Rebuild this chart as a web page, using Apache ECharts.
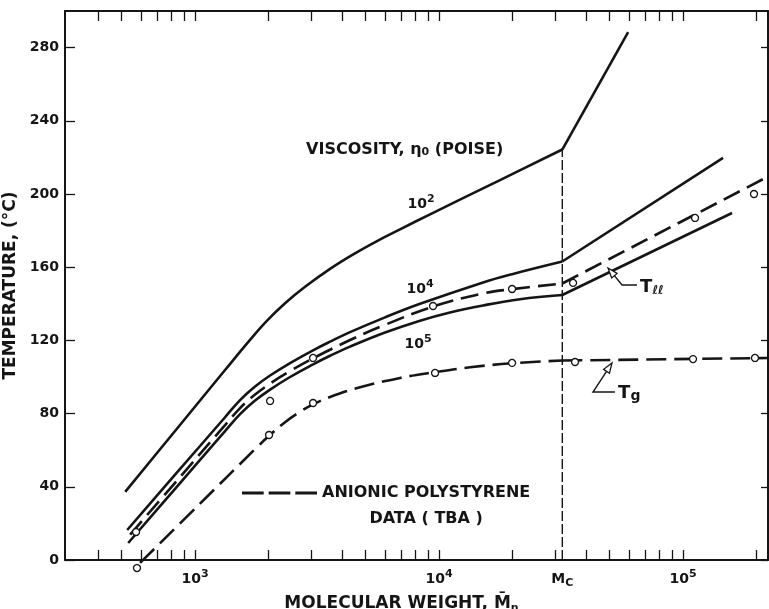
<!DOCTYPE html>
<html>
<head>
<meta charset="utf-8">
<script src="https://cdn.jsdelivr.net/npm/echarts@6/dist/echarts.min.js"></script>
<style>
  html, body { margin: 0; padding: 0; background: #ffffff; }
  #chart { width: 769px; height: 609px; }
</style>
</head>
<body>
<div id="chart"></div>
<script>
// Critical molecular weight (dashed vertical line, labelled Mc)
const MC = 32000;

// Iso-viscosity curves, [Mn, temperature °C]
const visc1e2 = [[517, 37.2], [828, 70.5], [1327, 103.8], [1680, 120.3], [1973, 130.8], [2338, 140.3], [2824, 149.3], [3575, 159.1], [4526, 167.6], [5570, 174.3], [6922, 180.7], [9186, 188.9], [17780, 207.6], [32000, 224.3], [59570, 288.5]];
const visc1e4 = [[527, 16.4], [828, 46.6], [1327, 78.0], [1529, 87.4], [1762, 94.8], [2030, 100.8], [2451, 107.6], [3045, 114.6], [3575, 119.3], [4318, 124.5], [6006, 132.6], [8359, 140.0], [15150, 151.7], [19920, 156.2], [32000, 163.1], [145900, 219.7]];
const visc1e5 = [[532, 9.3], [828, 38.9], [1327, 70.4], [1529, 79.7], [1762, 87.1], [2030, 93.1], [2451, 100.0], [3045, 106.9], [3575, 111.6], [4318, 116.6], [6006, 124.3], [8359, 130.8], [11090, 135.3], [15150, 139.1], [21480, 142.5], [32000, 144.8], [158800, 189.6]];

// Anionic polystyrene data (TBA): fitted curves and measured points
const tllCurve = [[542, 13.9], [828, 42.2], [1327, 73.7], [1529, 83.0], [1762, 90.4], [2030, 96.4], [2451, 103.2], [3045, 110.2], [4318, 120.2], [6006, 128.5], [9449, 138.5], [15150, 145.7], [19920, 148.0], [32000, 151.1], [216900, 208.7]];
const tgCurve = [[595, -1.6], [1048, 30.8], [1762, 60.6], [2010, 67.9], [2338, 75.3], [2694, 81.0], [3045, 85.0], [3575, 89.1], [4745, 94.4], [6922, 99.5], [9449, 102.5], [13400, 105.3], [19920, 107.5], [32000, 109.0], [221000, 110.4]];
const tllPoints = [[573, 15.3], [2030, 86.9], [3045, 110.4], [9449, 138.8], [19920, 148.1], [35420, 151.4], [112000, 186.9], [195400, 200]];
const tgPoints = [[578, -4.4], [2010, 68.3], [3045, 85.8], [9630, 102.2], [19920, 107.7], [36090, 108.2], [109900, 109.8], [197200, 110.4]];

// Axis ticks and labels
const xTickValues = [400, 500, 600, 700, 800, 900, 1000, 2000, 3000, 4000, 5000, 6000, 7000, 8000, 9000,
  10000, 20000, 30000, 40000, 50000, 60000, 70000, 80000, 90000, 100000, 200000];
const xLabelValues = [1000, 10000, MC, 100000];
const yTickValues = [0, 40, 80, 120, 160, 200, 240, 280];
const X_RANGE = [293, 223000];
const Y_RANGE = [0, 300];

// Text annotations [Mn, °C, text, alignment]
const notes = [
  [2850, 224.0, 'VISCOSITY, {eta|η}{sub|0} (POISE)', 'left'],
  [8440, 194.5, '{b|10}{sup|2}', 'center'],
  [8360, 148.1, '{b|10}{sup|4}', 'center'],
  [8200, 118.0, '{b|10}{sup|5}', 'center'],
  [66700, 149.2, '{T|T}{ll|ℓℓ}', 'left'],
  [54200, 91.3, '{T|T}{g|g}', 'left']
];
// Leader lines for the Tll and Tg labels: [label end, elbow, arrow tip], in [Mn, °C]
const leaders = [
  [[64760, 150.3], [56230, 150.3], [49270, 159.6]],
  [[52600, 91.8], [42750, 91.8], [51170, 107.7]]
];

const LEGEND_NAME = 'ANIONIC POLYSTYRENE DATA (TBA)';
const INK = '#151515';
const FONT = '"DejaVu Sans", sans-serif';
const lg = Math.log10;

const txt = (size, extra) => Object.assign({ fontFamily: FONT, fontWeight: 'bold', fontSize: size, color: INK, fill: INK }, extra || {});

const before = pts => pts.filter(p => p[0] <= MC).map(p => [lg(p[0]), p[1]]);
const after = pts => pts.filter(p => p[0] >= MC).map(p => [lg(p[0]), p[1]]);

// Each curve is drawn as a smooth branch below Mc and a straight branch above it
function curve(name, pts, dash, extra) {
  return [before, after].map((part, i) => Object.assign({
    type: 'line',
    name: name,
    data: part(pts),
    symbol: 'none',
    smooth: i === 0 ? 0.4 : false,
    lineStyle: { color: INK, width: 2.6, type: dash || 'solid', cap: 'butt' },
    itemStyle: { color: INK },
    silent: true,
    animation: false,
    z: 3
  }, extra || {}));
}

function points(name, pts) {
  return {
    type: 'scatter',
    name: name,
    data: pts.map(p => [lg(p[0]), p[1]]),
    symbol: 'circle',
    symbolSize: 7,
    itemStyle: { color: '#ffffff', borderColor: INK, borderWidth: 1.3, opacity: 1 },
    clip: false,
    silent: true,
    animation: false,
    z: 5
  };
}

const mcTop = visc1e2.find(p => p[0] === MC)[1];

const noteRich = {
  eta: txt(16),
  sub: txt(11, { verticalAlign: 'bottom', lineHeight: 14 }),
  b: txt(14, { lineHeight: 20 }),
  sup: txt(11, { verticalAlign: 'top', lineHeight: 8 }),
  T: txt(18, { lineHeight: 20 }),
  ll: txt(12, { verticalAlign: 'bottom', lineHeight: 10 }),
  g: txt(14, { verticalAlign: 'bottom', lineHeight: 12 })
};

const xTickStyle = { show: true, inside: true, length: 10, customValues: xTickValues.map(lg), lineStyle: { color: INK, width: 1.3 } };
const yTickStyle = len => ({ show: true, inside: true, length: len, customValues: yTickValues, lineStyle: { color: INK, width: 1.3 } });
const frameLine = { show: true, onZero: false, lineStyle: { color: INK, width: 2 } };

const option = {
  backgroundColor: '#ffffff',
  animation: false,
  grid: { left: 65, right: 1, top: 11, bottom: 49, containLabel: false, outerBoundsMode: 'none' },
  legend: {
    left: 242,
    top: 485,
    padding: 0,
    selectedMode: false,
    itemWidth: 75,
    itemHeight: 3,
    data: [{ name: LEGEND_NAME, icon: 'path://M0,0h22v3h-22zM27,0h22v3h-22zM54,0h22v3h-22z' }],
    formatter: () => '{a|ANIONIC POLYSTYRENE}\n{b|DATA ( TBA )}',
    textStyle: Object.assign(txt(16), {
      padding: [26, 0, 0, 0],
      rich: {
        a: txt(16, { lineHeight: 26 }),
        b: txt(16, { lineHeight: 26, align: 'center' })
      }
    })
  },
  xAxis: [
    {
      type: 'value',
      position: 'bottom',
      min: lg(X_RANGE[0]),
      max: lg(X_RANGE[1]),
      splitLine: { show: false },
      axisLine: frameLine,
      axisTick: xTickStyle,
      axisLabel: {
        customValues: xLabelValues.map(lg),
        margin: 9,
        formatter: v => Math.abs(v - lg(MC)) < 1e-9 ? '{b|M}{c|C}' : '{b|10}{sup|' + Math.round(v) + '}',
        rich: {
          b: txt(14, { lineHeight: 20 }),
          sup: txt(11, { verticalAlign: 'top', lineHeight: 8 }),
          c: txt(11, { verticalAlign: 'bottom', lineHeight: 12 })
        }
      },
      name: 'MOLECULAR WEIGHT, {m|M\u0304}{n|n}',
      nameLocation: 'middle',
      nameGap: 29,
      nameTextStyle: Object.assign(txt(17), {
        lineHeight: 20,
        padding: [0, 30, 0, 0],
        rich: {
          m: txt(17, { lineHeight: 20 }),
          n: txt(11, { verticalAlign: 'bottom', lineHeight: 12 })
        }
      })
    },
    {
      type: 'value',
      position: 'top',
      min: lg(X_RANGE[0]),
      max: lg(X_RANGE[1]),
      splitLine: { show: false },
      axisLine: frameLine,
      axisTick: xTickStyle,
      axisLabel: { show: false }
    }
  ],
  yAxis: [
    {
      type: 'value',
      position: 'left',
      min: Y_RANGE[0],
      max: Y_RANGE[1],
      splitLine: { show: false },
      axisLine: frameLine,
      axisTick: yTickStyle(10),
      axisLabel: Object.assign(txt(14), { customValues: yTickValues, margin: 6 }),
      name: 'TEMPERATURE, (°C)',
      nameLocation: 'middle',
      nameRotate: 90,
      nameGap: 40,
      nameTextStyle: txt(17)
    },
    {
      type: 'value',
      position: 'right',
      min: Y_RANGE[0],
      max: Y_RANGE[1],
      splitLine: { show: false },
      axisLine: frameLine,
      axisTick: yTickStyle(7),
      axisLabel: { show: false }
    }
  ],
  series: [].concat(
    curve('η0 = 10^2', visc1e2),
    curve('η0 = 10^4', visc1e4),
    curve('η0 = 10^5', visc1e5),
    curve(LEGEND_NAME, tllCurve, [18, 8]),
    curve(LEGEND_NAME, tgCurve, [20, 8], { clip: false }),
    [{
      type: 'line',
      name: 'Mc',
      data: [[lg(MC), 0], [lg(MC), mcTop]],
      symbol: 'none',
      lineStyle: { color: INK, width: 1.4, type: [10, 3] },
      silent: true,
      animation: false,
      z: 2
    }],
    [points(LEGEND_NAME, tllPoints), points(LEGEND_NAME, tgPoints)],
    [{
      type: 'custom',
      name: 'notes',
      data: notes.map(n => [lg(n[0]), n[1]]),
      encode: { x: 0, y: 1 },
      silent: true,
      animation: false,
      z: 6,
      renderItem: (params, api) => {
        const n = notes[params.dataIndex];
        const p = api.coord([api.value(0), api.value(1)]);
        return {
          type: 'text',
          x: p[0],
          y: p[1],
          style: {
            text: n[2],
            rich: noteRich,
            fontFamily: FONT,
            fontWeight: 'bold',
            fontSize: 16,
            fill: INK,
            align: n[3],
            verticalAlign: 'middle'
          }
        };
      }
    },
    {
      type: 'custom',
      name: 'leaders',
      data: leaders.map(l => [lg(l[2][0]), l[2][1]]),
      encode: { x: 0, y: 1 },
      silent: true,
      animation: false,
      z: 6,
      renderItem: (params, api) => {
        const pts = leaders[params.dataIndex].map(p => api.coord([lg(p[0]), p[1]]));
        const end = pts[0], elbow = pts[1], tip = pts[2];
        const dx = tip[0] - elbow[0], dy = tip[1] - elbow[1];
        const len = Math.hypot(dx, dy);
        const ux = dx / len, uy = dy / len;
        const head = 10, half = 3.5;
        const bx = tip[0] - ux * head, by = tip[1] - uy * head;
        return {
          type: 'group',
          children: [
            { type: 'polyline', shape: { points: [end, elbow, [bx, by]] }, style: { stroke: INK, lineWidth: 1.4, fill: 'none' } },
            { type: 'polygon', shape: { points: [tip, [bx - uy * half, by + ux * half], [bx + uy * half, by - ux * half]] }, style: { fill: '#ffffff', stroke: INK, lineWidth: 1.3 } }
          ]
        };
      }
    }]
  )
};

const chart = echarts.init(document.getElementById('chart'), null, { renderer: 'canvas' });
chart.setOption(option);
</script>
</body>
</html>
